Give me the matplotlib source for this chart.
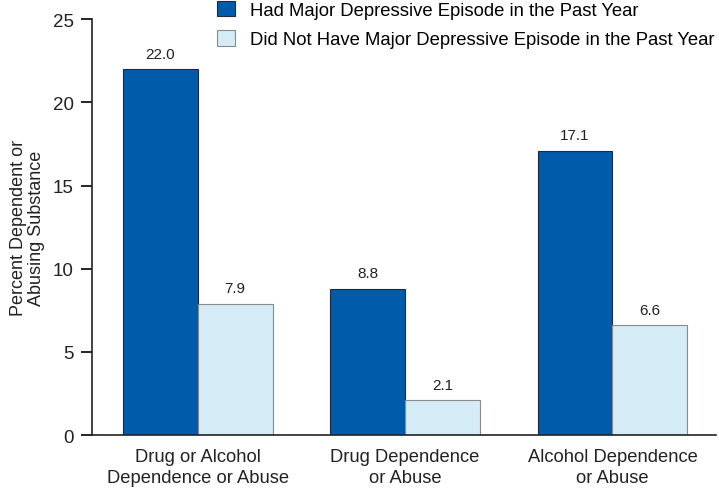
import matplotlib.pyplot as plt
import numpy as np

plt.rcParams['font.family'] = ['Liberation Sans', 'DejaVu Sans']

categories = ['Drug or Alcohol\nDependence or Abuse', 'Drug Dependence\nor Abuse',
              'Alcohol Dependence\nor Abuse']
had_mde = [22.0, 8.8, 17.1]
no_mde = [7.9, 2.1, 6.6]
series_names = ['Had Major Depressive Episode in the Past Year',
                'Did Not Have Major Depressive Episode in the Past Year']

dark = '#005BAA'
light = '#D5EBF5'

fig = plt.figure(figsize=(7.19, 4.89), dpi=100)
ax = fig.add_axes([0.128, 0.108, 0.868, 0.851])

x = np.arange(len(categories))
w = 0.361
b1 = ax.bar(x - w / 2, had_mde, w, color=dark, edgecolor='#1a2a40', linewidth=0.8)
b2 = ax.bar(x + w / 2, no_mde, w, color=light, edgecolor='#8a8a8a', linewidth=0.8)

for bars, vals in ((b1, had_mde), (b2, no_mde)):
    for r, v in zip(bars, vals):
        ax.annotate('{:.1f}'.format(v), (r.get_x() + r.get_width() / 2, v),
                    xytext=(0, 6), textcoords='offset points',
                    ha='center', va='bottom', fontsize=11, color='#222222')

ax.set_xlim(-0.51, 2.5)
ax.set_ylim(0, 25)
ax.set_yticks([0, 5, 10, 15, 20, 25])
ax.set_xticks(x)
ax.set_xticklabels(categories, fontsize=13.2, color='#222222', linespacing=1.3)
ax.tick_params(axis='x', length=0, pad=9)
ax.tick_params(axis='y', length=8, width=1.2, labelsize=13.5, pad=5, labelcolor='#222222')
for s in ('top', 'right'):
    ax.spines[s].set_visible(False)
for s in ('left', 'bottom'):
    ax.spines[s].set_linewidth(1.2)
    ax.spines[s].set_color('#222222')

ax.set_ylabel('Percent Dependent or\nAbusing Substance', fontsize=13, color='#222222',
              labelpad=6, linespacing=1.05)

fig.legend([b1, b2], series_names, loc='upper left', bbox_to_anchor=(0.292, 1.012),
           frameon=False, fontsize=13.3, handlelength=0.95, handleheight=0.95,
           handletextpad=0.8, labelspacing=0.6, borderaxespad=0)

fig.savefig('out.png', dpi=100)
